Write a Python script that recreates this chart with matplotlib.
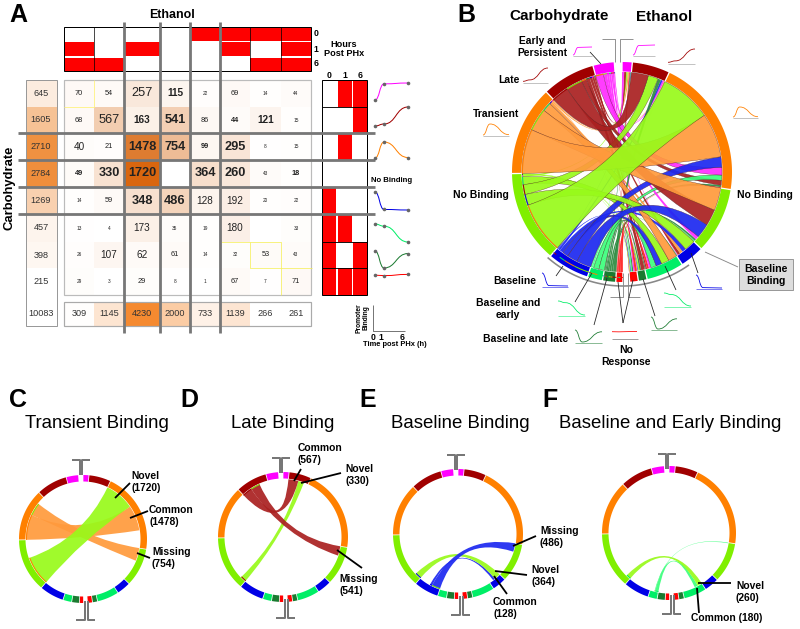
"""Binding-state transition figure: count matrix (A) and chord diagrams (B-F)."""

import matplotlib
matplotlib.use("Agg")
import matplotlib.pyplot as plt
import numpy as np
from matplotlib.colors import LinearSegmentedColormap
from matplotlib.patches import PathPatch, Rectangle
from matplotlib.path import Path

plt.rcParams["font.family"] = ["Liberation Sans", "DejaVu Sans"]

# rows = carbohydrate state, cols = ethanol state
counts = np.array([
    [70, 54, 257, 115, 22, 69, 14, 44],
    [68, 567, 163, 541, 86, 44, 121, 15],
    [40, 21, 1478, 754, 99, 295, 8, 15],
    [49, 330, 1720, 0, 364, 260, 43, 18],
    [14, 59, 348, 486, 128, 192, 20, 22],
    [13, 4, 173, 35, 19, 180, 0, 33],
    [26, 107, 62, 61, 14, 32, 53, 43],
    [29, 3, 29, 8, 1, 67, 7, 71],
])
carb_totals = [645, 1605, 2710, 2784, 1269, 457, 398, 215]
eth_totals = [309, 1145, 4230, 2000, 733, 1139, 266, 261]
grand_total = 10083

# t=tiny s=small m=medium l=large, upper case = bold
cell_styles = [
    "sslMtstt",
    "slMLsSMt",
    "msLLSLtt",
    "SLLtLLtS",
    "tsLLmmtt",
    "ttmttmtt",
    "tmmsttst",
    "ttsttsts",
]
# binding at 0, 1, 6 h for each state
patterns = [(0, 1, 1), (0, 0, 1), (0, 1, 0), (0, 0, 0),
            (1, 0, 0), (1, 1, 0), (1, 0, 1), (1, 1, 1)]
profiles = [
    (0.0, 0.95, 1.0), (0.05, 0.15, 1.0), (0.0, 1.0, 0.03), None,
    (1.0, 0.03, 0.0), (1.0, 0.88, 0.0), (1.0, 0.0, 0.85), (0.1, 0.05, 0.2),
]
hours = ["0", "1", "6"]

ring_colors = ["#ff00ff", "#a00000", "#ff8000", "#80ef00",
               "#0000e6", "#00ee66", "#1a7a30", "#ff0000"]
ribbon_colors = ["#ff2cff", "#aa2020", "#ff9a3c", "#98fa1a",
                 "#1c28f0", "#3cff7c", "#2e8b40", "#ff2020"]

col_edges = [64, 94, 124, 160, 190, 220, 250, 281, 311]
row_edges = [80, 107, 133, 160, 187, 214, 242, 268, 295]
grey_cols = [124, 160, 190, 220]
grey_rows = [133, 160, 187, 214]

fig = plt.figure(figsize=(8, 6.29), dpi=100)
ax = fig.add_axes([0, 0, 1, 1])
ax.set_xlim(0, 800)
ax.set_ylim(629, 0)
ax.axis("off")

SIZES = {"t": 3.4, "s": 5.3, "m": 7.2, "l": 9.2}
PX = 0.72  # one pixel in points


def txt(x, y, s, size=7.5, weight="bold", ha="center", va="center", color="black", **kw):
    ax.text(x, y, s, fontsize=size, fontweight=weight, ha=ha, va=va, color=color, zorder=20, **kw)


def seg(xs, ys, color="black", lw=1.0, z=15):
    ax.plot(xs, ys, color=color, lw=lw * PX, zorder=z, solid_capstyle="butt")


def rect(x0, y0, x1, y1, fc, ec="none", lw=0.0, z=2):
    ax.add_patch(Rectangle((x0, y0), x1 - x0, y1 - y0, fc=fc, ec=ec, lw=lw * PX, zorder=z))


def smooth(xs, ys, color, lw=1.0, z=12):
    # flat-tangent bezier through the time points
    verts = [(xs[0], ys[0])]
    codes = [Path.MOVETO]
    for i in range(len(xs) - 1):
        dx = (xs[i + 1] - xs[i]) * 0.5
        verts += [(xs[i] + dx, ys[i]), (xs[i + 1] - dx, ys[i + 1]), (xs[i + 1], ys[i + 1])]
        codes += [Path.CURVE4] * 3
    ax.add_patch(PathPatch(Path(verts, codes), fc="none", ec=color, lw=lw * PX, zorder=z))


# ---- panel A ----
heat = LinearSegmentedColormap.from_list("heat", ["#ffffff", "#d9660f"])
heat_left = LinearSegmentedColormap.from_list("heat_left", ["#ffffff", "#ef8e3c"])
heat_bottom = LinearSegmentedColormap.from_list("heat_bottom", ["#ffffff", "#f58a30"])

for r in range(8):
    y0, y1 = row_edges[r], row_edges[r + 1]
    rect(26, y0, 57, y1, heat_left((carb_totals[r] - 215) / (2784 - 215)))
    txt(41, (y0 + y1) / 2, str(carb_totals[r]), 6.6, "normal", color="#333333")
    for c in range(8):
        x0, x1 = col_edges[c], col_edges[c + 1]
        rect(x0, y0, x1, y1, heat(counts[r, c] / 1720))
        if counts[r, c] == 0:
            continue
        style = cell_styles[r][c]
        txt((x0 + x1) / 2, (y0 + y1) / 2, str(counts[r, c]), SIZES[style.lower()],
            "bold" if style.isupper() else "normal", color="#222222")

rect(26, 302, 57, 326, "white")
txt(41, 313, str(grand_total), 6.6, "normal", color="#333333")
for c in range(8):
    x0, x1 = col_edges[c], col_edges[c + 1]
    rect(x0, 302, x1, 326, heat_bottom((eth_totals[c] - 261) / (4230 - 261)))
    txt((x0 + x1) / 2, 313, str(eth_totals[c]), 6.6, "normal", color="#333333")

rect(64, 80, 311, 295, "none", "#bbbbbb", 1.2, z=4)
rect(64, 302, 311, 326, "none", "#aaaaaa", 1.2, z=4)
rect(26, 80, 57, 326, "none", "#999999", 1.0, z=4)

# yellow outlines along the diagonal
seg([64, 94, 94], [107, 107, 80], "#fff27a", 0.8, 5)
seg([221, 250], [242, 242], "#f5ef50", 0.7, 5)
seg([250, 281, 281, 250, 250], [242, 242, 268, 268, 242], "#f5ef50", 0.7, 5)
seg([281, 312], [268, 268], "#f5ef50", 0.7, 5)
seg([281, 281], [268, 295], "#f5ef50", 0.7, 5)

# top state grid
top_rows = [(27, 41), (42, 56), (58, 71)]
for c, pat in enumerate(patterns):
    for k, on in enumerate(pat):
        if on:
            rect(col_edges[c], top_rows[k][0], col_edges[c + 1], top_rows[k][1], "#fe0000")
rect(64, 27, 311, 71, "none", "black", 1.0, z=5)
for x in col_edges[1:-1]:
    seg([x, x], [27, 71], "black", 0.7, 5)
for k, h in enumerate(hours):
    txt(316, 34 + 15 * k, h, 6.2)
txt(344, 49, "Hours\nPost PHx", 6.6, linespacing=1.05)

# right state grid
grid_cols = [(322, 336), (338, 352), (353, 367)]
for r, pat in enumerate(patterns):
    for k, on in enumerate(pat):
        if on:
            rect(grid_cols[k][0], row_edges[r], grid_cols[k][1], row_edges[r + 1], "#fe0000")
rect(322, 80, 367, 295, "none", "black", 1.0, z=5)
for y in (107, 242, 268):
    seg([322, 367], [y, y], "black", 0.9, 6)
for k, h in enumerate(hours):
    txt((grid_cols[k][0] + grid_cols[k][1]) / 2, 75, h, 6.2)

for y in grey_rows:
    seg([18, 375], [y, y], "#777777", 2.8, 8)
for x in grey_cols:
    seg([x, x], [22, 333], "#777777", 2.8, 8)

# time-course thumbnails next to the grid
thumb_x = np.array([375, 384, 408])
thumb_base = [100, 127, 158, None, 210, 242, 268, 276]
thumb_amp = [17, 20, 16, 0, 18, 18, 17, 8]
for r, prof in enumerate(profiles):
    if prof is None:
        continue
    ys = thumb_base[r] - thumb_amp[r] * np.array(prof)
    smooth(thumb_x, ys, ring_colors[r], 1.0)
    ax.plot(thumb_x, ys, "o", ms=2.6, color="#666666", mec="none", zorder=13)

txt(392, 180, "No Binding", 5.6)
txt(18, 15, "A", 18)
txt(172, 15, "Ethanol", 8.9)
txt(10, 188, "Carbohydrate", 9.4, rotation=90)
seg([373, 373, 405], [305, 331, 331], "#555555", 0.8)
txt(362.5, 318, "Promoter\nBinding", 4.8, rotation=90, linespacing=1.0)
for x, h in zip((373, 381, 402), hours):
    txt(x, 338, h, 6.2)
txt(363, 345, "Time post PHx (h)", 5.4, ha="left")


# ---- chord helpers ----
def polar(cx, cy, r, a):
    a = np.radians(a)
    return cx + r * np.sin(a), cy - r * np.cos(a)


def segment_bounds():
    scale_r = 176.0 / grand_total
    scale_l = 176.5 / grand_total
    right, left = {}, {}
    a = 0.0
    for j, t in enumerate(eth_totals):
        right[j] = (a, a + t * scale_r)
        a += t * scale_r
    a = 179.5
    for i in range(7, -1, -1):
        left[i] = (a, a + carb_totals[i] * scale_l)
        a += carb_totals[i] * scale_l
    return left, right, scale_l, scale_r


LEFT, RIGHT, SCALE_L, SCALE_R = segment_bounds()


def arc_poly(cx, cy, r0, r1, a0, a1, color, z=6):
    t = np.linspace(a0, a1, max(int(abs(a1 - a0)) * 2, 4))
    x0, y0 = polar(cx, cy, r0, t)
    x1, y1 = polar(cx, cy, r1, t[::-1])
    ax.fill(np.r_[x0, x1], np.r_[y0, y1], color=color, lw=0, zorder=z)


def ring(cx, cy, R, width):
    for segs in (LEFT, RIGHT):
        for k, (a0, a1) in segs.items():
            arc_poly(cx, cy, R - width, R, a0 + 0.35, a1 - 0.35, ring_colors[k])


def ribbon(cx, cy, r, a, b, color, z, edge=True):
    # a and b are (start, end) angle spans, a clockwise before b
    ta = np.linspace(a[0], a[1], max(int(a[1] - a[0]) * 2, 3))
    tb = np.linspace(b[0], b[1], max(int(b[1] - b[0]) * 2, 3))
    pa = list(zip(*polar(cx, cy, r, ta)))
    pb = list(zip(*polar(cx, cy, r, tb)))
    verts = pa + [(cx, cy)] + pb + [(cx, cy), pa[0]]
    codes = ([Path.MOVETO] + [Path.LINETO] * (len(pa) - 1) + [Path.CURVE3] * 2
             + [Path.LINETO] * (len(pb) - 1) + [Path.CURVE3] * 2)
    ax.add_patch(PathPatch(Path(verts, codes), fc=color, ec="#50202060" if edge else "none",
                           lw=0.25, alpha=0.92, zorder=z))


def chords(cx, cy, r, pairs, stripe_r=None):
    # ribbons are laid down clockwise from each segment's start, in the given order
    used_l = {k: LEFT[k][0] for k in LEFT}
    used_r = {k: RIGHT[k][0] for k in RIGHT}
    items = []
    for i, j in pairs:
        v = counts[i, j]
        a = (used_l[i], used_l[i] + v * SCALE_L)
        used_l[i] = a[1]
        b = (used_r[j], used_r[j] + v * SCALE_R)
        used_r[j] = b[1]
        items.append((v, i, j, a, b))
    for n, (v, i, j, a, b) in enumerate(sorted(items, key=lambda it: it[0])):
        # right-hand span is clockwise first, so it leads the path
        ribbon(cx, cy, r, b, a, ribbon_colors[i], 7 + n * 0.01, edge=False)
        if stripe_r is not None:
            arc_poly(cx, cy, stripe_r, stripe_r + 1.0, a[0], a[1], ring_colors[j], z=7.9)


# ---- panel B ----
BX, BY, BR = 622, 172, 110
all_pairs = []
for i in range(8):
    for j in np.argsort(-counts[i]):
        if counts[i, j] > 0:
            all_pairs.append((i, j))
# segments run largest first on both sides
spans_r = {}
for j in range(8):
    a = RIGHT[j][0]
    for i in np.argsort(-counts[:, j]):
        spans_r[(i, j)] = (a, a + counts[i, j] * SCALE_R)
        a += counts[i, j] * SCALE_R
spans_l = {}
for i in range(8):
    a = LEFT[i][0]
    for j in np.argsort(-counts[i]):
        spans_l[(i, j)] = (a, a + counts[i, j] * SCALE_L)
        a += counts[i, j] * SCALE_L

ring(BX, BY, BR, 9.5)
for n, (i, j) in enumerate(sorted(all_pairs, key=lambda p: counts[p])):
    ribbon(BX, BY, BR - 10, spans_r[(i, j)], spans_l[(i, j)], ribbon_colors[i], 7 + n * 0.01,
           edge=counts[i, j] > 150)
    sr = BR - 5 if i >= 4 else BR - 11
    arc_poly(BX, BY, sr, sr + 1.0, spans_l[(i, j)][0], spans_l[(i, j)][1], ring_colors[j], z=7.9)

t = np.linspace(145, 221, 60)
ax.plot(*polar(BX + 1, BY, BR + 4, t), color="#888888", lw=1.6 * PX, zorder=6)

# brackets around the gaps
seg([602, 615, 615], [39, 39, 62], "#888888", 0.9)
seg([633, 620, 620], [39, 39, 62], "#888888", 0.9)
seg([610, 623, 623], [297, 297, 273], "#888888", 0.9)
seg([640, 628, 628], [297, 297, 273], "#888888", 0.9)

# (x0, x1, y_bottom, y_top, state)
b_thumbs = [
    (573, 592, 55, 47, 0), (633, 655, 55, 45, 0), (523, 548, 82, 68, 1), (668, 695, 63, 49, 1),
    (483, 509, 135, 124, 2), (733, 758, 117, 107, 2), (542, 568, 286, 273, 4), (696, 722, 288, 275, 4),
    (558, 585, 315, 301, 5), (664, 691, 306, 293, 5), (575, 602, 342, 330, 6), (651, 677, 329, 317, 6),
    (612, 637, 332, 329, 7),
]
for x0, x1, yb, yt, s in b_thumbs:
    xs = x0 + (x1 - x0) * np.array([0, 0.27, 1.0])
    ys = yb - (yb - yt) * np.array(profiles[s])
    smooth(xs, ys, ring_colors[s], 0.8)
    if s != 7:
        seg([x0, x1], [yb + 1, yb + 1], ring_colors[s] if s > 3 else "#888888", 0.5, 11)
seg([612, 638], [339, 339], "#777777", 0.7)

b_leaders = [
    ([590, 601], [52, 64]), ([556, 563], [276, 266]), ([575, 592], [302, 273]),
    ([594, 607], [325, 278]), ([623, 618], [323, 282]), ([623, 633], [323, 280]),
    ([698, 691], [273, 253]), ([655, 643], [316, 279]), ([676, 665], [290, 266]),
]
for xs, ys in b_leaders:
    seg(xs, ys, "#222222", 0.8)

seg([705, 738], [252, 267], "#888888", 0.9)
rect(739, 259, 793, 290, "#dddddd", "#999999", 1.0)
txt(766, 275, "Baseline\nBinding", 7.6, linespacing=1.15)

txt(466, 15, "B", 18)
txt(559, 16, "Carbohydrate", 11)
txt(664, 17, "Ethanol", 11)
txt(542, 47, "Early and\nPersistent", 7.4, linespacing=1.2)
txt(509, 80, "Late", 7.5)
txt(496, 114, "Transient", 7.5)
txt(481, 195, "No Binding", 7.5)
txt(765, 195, "No Binding", 7.5)
txt(515, 281, "Baseline", 7.5)
txt(508, 309, "Baseline and\nearly", 7.5, linespacing=1.2)
txt(526, 339, "Baseline and late", 7.5)
txt(626, 356, "No\nResponse", 7.5, linespacing=1.2)

# ---- panels C-F ----
panels = [
    ("C", 18, "Transient Binding", 97, 83, 539, 64, [(3, 2), (2, 2), (2, 3)]),
    ("D", 189, "Late Binding", 283, 283, 537, 65, [(1, 1), (1, 3), (3, 1)]),
    ("E", 368, "Baseline Binding", 460, 458, 534, 65, [(4, 3), (3, 4), (4, 4)]),
    ("F", 550, "Baseline and Early Binding", 670, 669, 533, 67, [(3, 5), (5, 5), (5, 3)]),
]
# x, y of label, text lines, leader line
callouts = [
    (131, 482, "Novel\n(1720)", [115, 130], [498, 483]),
    (149, 516, "Common\n(1478)", [130, 148], [518, 511]),
    (152, 558, "Missing\n(754)", [137, 150], [553, 558]),
    (298, 454, "Common\n(567)", [294, 301], [481, 469]),
    (345, 475, "Novel\n(330)", [301, 341], [483, 473]),
    (339, 585, "Missing\n(541)", [337, 362], [550, 568]),
    (540, 537, "Missing\n(486)", [513, 536], [546, 536]),
    (531, 576, "Novel\n(364)", [495, 527], [571, 575]),
    (493, 608, "Common\n(128)", [494, 507], [576, 594]),
    (736, 592, "Novel\n(260)", [698, 731], [583, 583]),
    (691, 618, "Common (180)", [697, 699], [588, 613]),
]

for letter, lx, title, tx, cx, cy, R, pairs in panels:
    txt(lx, 400, letter, 18)
    txt(tx, 424, title, 13.4, "normal")
    ring(cx, cy, R, 6.5)
    chords(cx, cy, R - 7, pairs, stripe_r=R - 8)
    seg([cx - 11, cx - 3, cx - 3], [cy - 79, cy - 79, cy - 64], "#777777", 2.0)
    seg([cx + 7, cx - 1, cx - 1], [cy - 79, cy - 79, cy - 64], "#777777", 2.0)
    seg([cx - 7, cx + 2, cx + 2], [cy + 81, cy + 81, cy + 62], "#777777", 2.0)
    seg([cx + 12, cx + 5, cx + 5], [cy + 81, cy + 81, cy + 62], "#777777", 2.0)

for x, y, label, xs, ys in callouts:
    txt(x, y, label, 7.4, ha="left", linespacing=1.2)
    seg(xs, ys, "black", 1.8, 16)

fig.savefig("out.png", dpi=100)
plt.close(fig)
